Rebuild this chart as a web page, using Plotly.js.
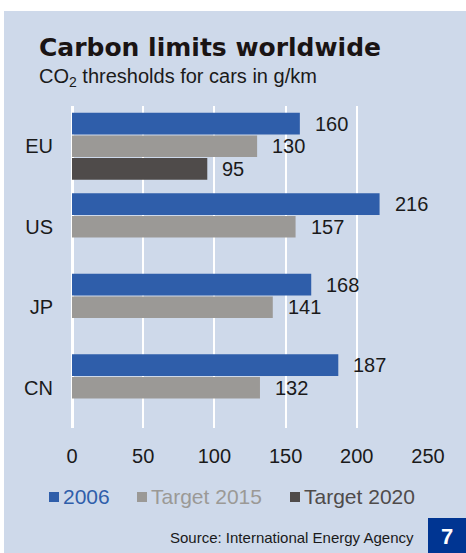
<!DOCTYPE html>
<html>
<head>
<meta charset="utf-8">
<script src="https://cdn.plot.ly/plotly-3.0.1.min.js"></script>
<style>
html,body{margin:0;padding:0;background:#ffffff;}
#chart{position:absolute;left:4px;top:11px;width:462px;height:542px;}
</style>
</head>
<body>
<div id="chart"></div>
<script>
// ---- data ----
const regions = ["EU", "US", "JP", "CN"];
const seriesNames = ["2006", "Target 2015", "Target 2020"];
const values2006 = [160, 216, 168, 187];
const valuesTarget2015 = [130, 157, 141, 132];
const valuesTarget2020 = [95, null, null, null];
const xTicks = [0, 50, 100, 150, 200, 250];

// ---- style ----
const colors = ["#2f5eaa", "#9b9996", "#4f4b4a"];
const legendTextColors = ["#2f5eaa", "#9b9996", "#4f4b4a"];
const legendSquareX = [49, 137, 290];   // page x of legend squares
const legendY = 497;
const W = 462, H = 542;
const M = {l: 68, r: 38, t: 95, b: 125};
const FONT = "Liberation Sans";
const plotW = W - M.l - M.r, plotH = H - M.t - M.b;
const px = x => (x - 4 - M.l) / plotW;          // page x -> paper x
const py = y => (H - M.b - (y - 11)) / plotH;    // page y -> paper y

const allSeries = [values2006, valuesTarget2015, valuesTarget2020];
const traces = allSeries.map((vals, i) => ({
  type: "bar",
  orientation: "h",
  name: seriesNames[i],
  y: regions,
  x: vals,
  marker: {color: colors[i]},
  hoverinfo: "x+y",
  showlegend: false
}));

// value labels
const slotPx = 22.7;
const annotations = [];
allSeries.forEach((vals, i) => {
  vals.forEach((v, j) => {
    if (v === null) return;
    annotations.push({
      x: v, y: regions[j], xref: "x", yref: "y",
      text: String(v), showarrow: false,
      xanchor: "left", yanchor: "middle",
      xshift: 13, yshift: (1 - i) * slotPx,
      font: {family: FONT, size: 20, color: "#1a1a1a"}
    });
  });
});

// legend (squares + coloured names)
const shapes = [];
seriesNames.forEach((name, i) => {
  shapes.push({
    type: "rect", xref: "paper", yref: "paper",
    x0: px(legendSquareX[i]), x1: px(legendSquareX[i] + 10),
    y0: py(legendY + 5), y1: py(legendY - 5),
    fillcolor: colors[i], line: {width: 0}
  });
  annotations.push({
    xref: "paper", yref: "paper", x: px(legendSquareX[i] + 12), y: py(legendY),
    xanchor: "left", yanchor: "middle", showarrow: false,
    text: name,
    font: {family: FONT, size: 21, color: legendTextColors[i]}
  });
});

// titles and source
annotations.push({
  xref: "paper", yref: "paper", x: px(37), y: py(47),
  xanchor: "left", yanchor: "middle", showarrow: false,
  text: "Carbon limits worldwide",
  font: {family: "DejaVu Sans", size: 25, color: "#1a1414", weight: "bold"}
});
annotations.push({
  xref: "paper", yref: "paper", x: px(37), y: py(77),
  xanchor: "left", yanchor: "middle", showarrow: false,
  text: "CO<sub>2</sub> thresholds for cars in g/km",
  font: {family: FONT, size: 20, color: "#1a1a1a"}
});
annotations.push({
  xref: "paper", yref: "paper", x: px(416), y: py(537),
  xanchor: "right", yanchor: "middle", showarrow: false,
  text: "Source: International Energy Agency",
  font: {family: FONT, size: 15, color: "#1a1a1a"}
});
shapes.push({
  type: "rect", xref: "paper", yref: "paper",
  x0: px(428), x1: px(470), y0: py(518), y1: py(556),
  fillcolor: "#003592", line: {width: 0}, layer: "above"
});
annotations.push({
  xref: "paper", yref: "paper", x: px(447), y: py(536),
  xanchor: "center", yanchor: "middle", showarrow: false,
  text: "<b>7</b>",
  font: {family: FONT, size: 22, color: "#ffffff"}
});

const layout = {
  width: W, height: H,
  margin: M,
  paper_bgcolor: "#ced9ea",
  plot_bgcolor: "#ced9ea",
  barmode: "group",
  bargap: 0.157,
  bargroupgap: 0.04,
  showlegend: false,
  xaxis: {
    range: [0, 250], tickvals: xTicks, ticktext: xTicks.map(String),
    showgrid: true, gridcolor: "#ffffff", gridwidth: 2,
    zeroline: true, zerolinecolor: "#ffffff", zerolinewidth: 3,
    showline: false, ticks: "", ticklabelstandoff: 14,
    tickfont: {family: FONT, size: 20, color: "#1a1a1a"},
    fixedrange: true
  },
  yaxis: {
    type: "category", autorange: "reversed",
    showgrid: false, zeroline: false, showline: false, ticks: "",
    ticklabelstandoff: 18,
    tickfont: {family: FONT, size: 20, color: "#1a1a1a"},
    fixedrange: true
  },
  annotations: annotations,
  shapes: shapes
};

Plotly.newPlot("chart", traces, layout, {displayModeBar: false, staticPlot: true});
</script>
</body>
</html>
